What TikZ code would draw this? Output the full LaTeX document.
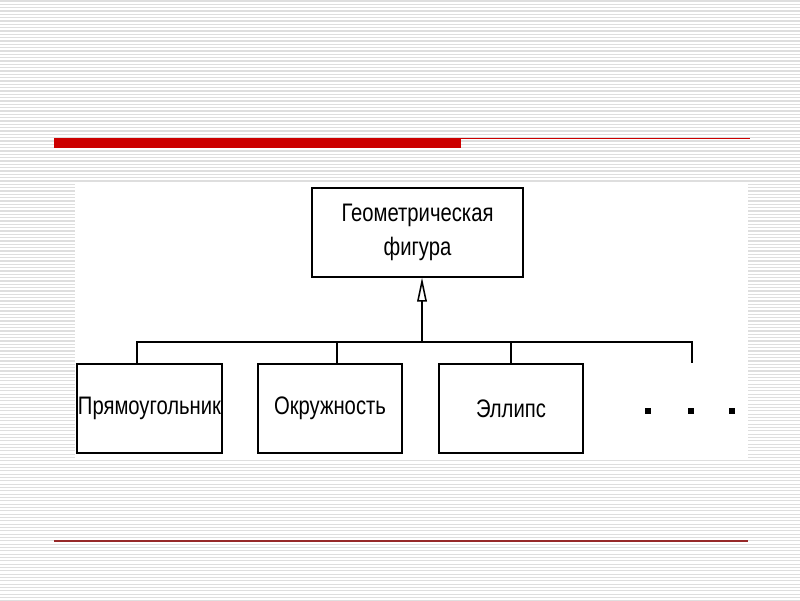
\documentclass[tikz,border=0pt]{standalone}
\usepackage{fontspec}
\usepackage{xcolor}
\usepackage{tikz}
\usetikzlibrary{arrows.meta}

\newfontfamily\narrowfont[FakeStretch=0.8]{Liberation Sans}
\definecolor{slidered}{RGB}{204,0,0}
\definecolor{darkline}{RGB}{150,40,40}
\definecolor{stripe}{RGB}{222,222,222}

\tikzset{
	klass/.style={draw, thick, rectangle, minimum height=2.225cm, inner sep=0pt, fill=white,
		font=\narrowfont\fontsize{18}{24}\selectfont, align=center},
	link/.style={draw, line width=1.1pt},
	dotsq/.style={fill=black, rectangle, minimum size=0.15cm, inner sep=0pt}
}

\begin{document}
\begin{tikzpicture}[x=0.025cm, y=-0.025cm]
			\useasboundingbox (0,0) rectangle (800,600);
			% striped slide background
			\fill[white] (0,0) rectangle (800,600);
			\foreach \k in {0,...,180}
				\draw[stripe, line width=0.75pt] (0,1+\k*3.333) -- (800,1+\k*3.333);
			
			\fill[slidered] (54,138) rectangle (461,148);
			\draw[slidered, line width=0.8pt] (461,138.5) -- (750,138.5);
			\draw[darkline, line width=1.2pt] (54,541) -- (748,541);
			
			\fill[white] (75,183) rectangle (748,460);
			
			\node[klass, minimum width=5.275cm] (geom) at (417.5,232.5) {Геометрическая\\фигура};
			
			\node[klass, minimum width=3.625cm] (rect) at (149.5,408.5) {Прямоугольник};
			\node[klass, minimum width=3.6cm] (circ) at (330,408.5) {Окружность};
			\node[klass, minimum width=3.6cm] (ell) at (511,408.5) {Эллипс};
			
			\coordinate (bus) at (422,342);
			\coordinate (busr) at (692,342);
			\coordinate (more) at (692,363);
			
			\draw[link, -{Triangle[open, length=0.6cm, width=0.24cm, line width=1.1pt]}] (bus) -- (bus |- geom.south);
			\draw[link] ([xshift=-0.3125cm]rect.north) |- (busr) -- (more);
			\draw[link] ([xshift=0.175cm]circ.north) -- ([xshift=0.175cm]circ.north |- bus);
			\draw[link] (ell.north) -- (ell.north |- bus);
			
			\foreach \x [count=\i] in {648,691,732}
				\node[dotsq] (dot\i) at (\x,411) {};

		\end{tikzpicture}
\end{document}
